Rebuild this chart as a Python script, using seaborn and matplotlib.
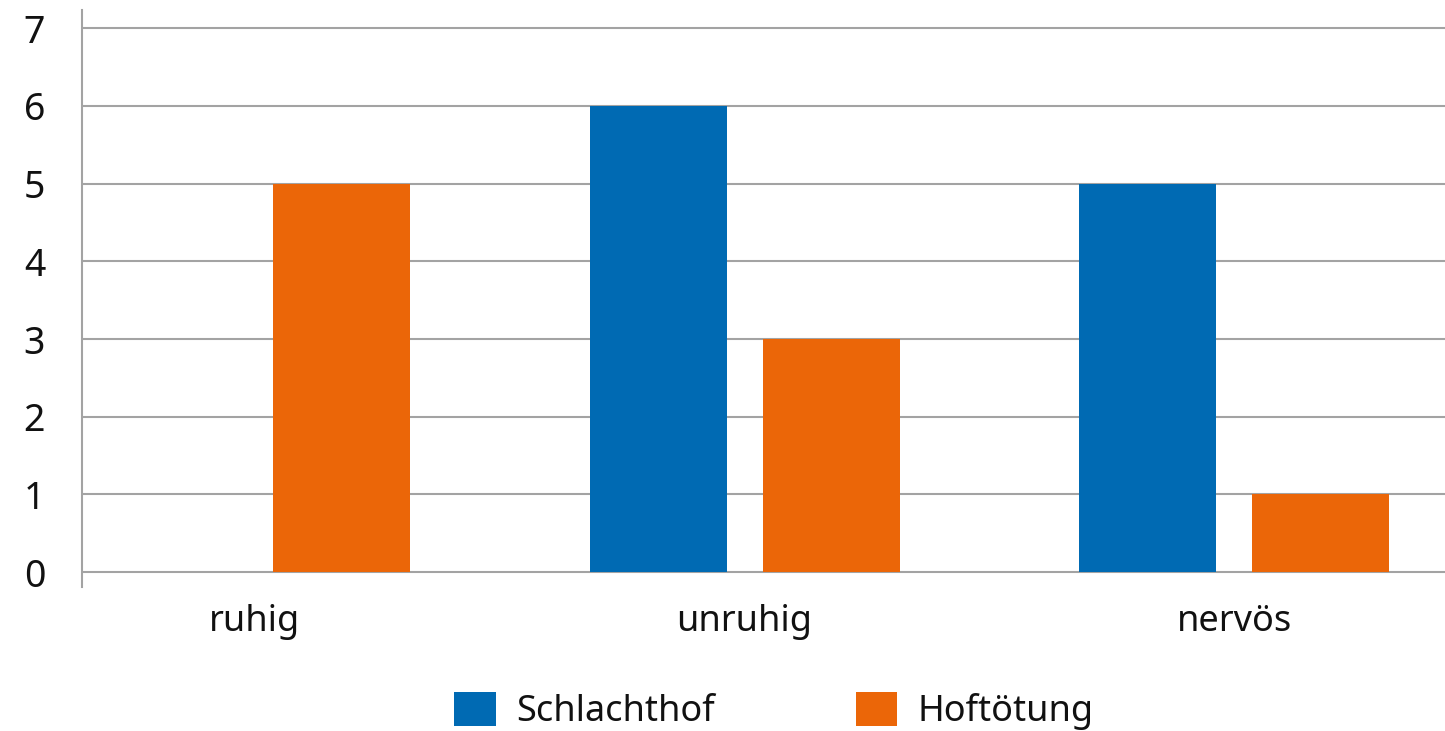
import pandas as pd
import matplotlib.pyplot as plt
import seaborn as sns

categories = ["ruhig", "unruhig", "nervös"]
series = ["Schlachthof", "Hoftötung"]
schlachthof = [0, 6, 5]
hoftoetung = [5, 3, 1]
yticks = [0, 1, 2, 3, 4, 5, 6, 7]

df = pd.DataFrame({
    "Kategorie": categories * 2,
    "Gruppe": [series[0]] * 3 + [series[1]] * 3,
    "Wert": schlachthof + hoftoetung,
})

sns.set_style("white")
plt.rcParams["font.family"] = ["Noto Sans", "DejaVu Sans"]

fig = plt.figure(figsize=(14.45, 7.31), dpi=100)
ax = fig.add_axes([0.0567, 0.197, 0.9433, 0.789])

grid_col = "#a3a3a3"
text_col = "#111111"

sns.barplot(
    data=df,
    x="Kategorie",
    y="Wert",
    hue="Gruppe",
    palette=["#006ab3", "#eb6608"],
    width=0.706,
    gap=0.208,
    saturation=1,
    linewidth=0,
    ax=ax,
    zorder=3,
)

ax.set_xlim(-0.353, 2.43)
ax.set_ylim(-0.19, 7.23)
ax.set_yticks(yticks)
ax.set_xlabel("")
ax.set_ylabel("")

ax.grid(axis="y", color=grid_col, linewidth=1.5, zorder=0)
for s in ["top", "right", "bottom"]:
    ax.spines[s].set_visible(False)
ax.spines["left"].set_color(grid_col)
ax.spines["left"].set_linewidth(1.5)

ax.tick_params(axis="y", direction="out", length=11.5, width=1.5,
               color=grid_col, pad=15, labelsize=27, labelcolor=text_col)
ax.tick_params(axis="x", length=0, pad=12, labelsize=26, labelcolor=text_col)

leg = ax.legend(
    loc="center",
    bbox_to_anchor=(0.5356, 0.027),
    bbox_transform=fig.transFigure,
    ncol=2,
    frameon=False,
    fontsize=26,
    handlelength=1.16,
    handleheight=1.08,
    handletextpad=0.55,
    columnspacing=3.9,
)
for t in leg.get_texts():
    t.set_color(text_col)

fig.savefig("out.png", dpi=100)
